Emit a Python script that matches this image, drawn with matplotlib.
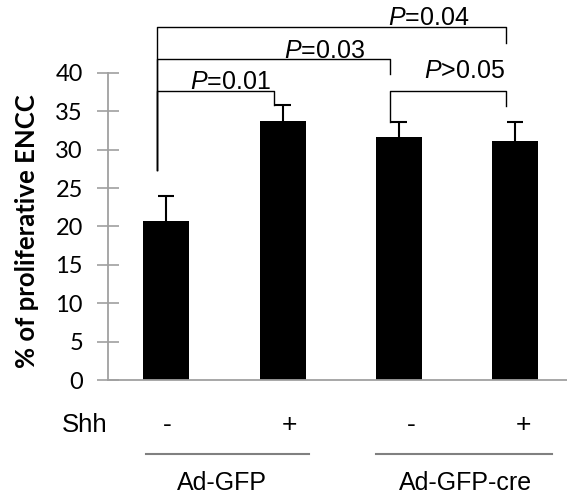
import numpy as np
import matplotlib
matplotlib.use('Agg')
import matplotlib.pyplot as plt
import matplotlib.transforms as mtransforms

plt.rcParams['mathtext.fontset'] = 'custom'
plt.rcParams['mathtext.rm'] = 'Liberation Sans'
plt.rcParams['mathtext.it'] = 'Liberation Sans:italic'

# data
shh = ['-', '+', '-', '+']
groups = ['Ad-GFP', 'Ad-GFP-cre']
values = np.array([20.75, 33.7, 31.6, 31.1])
errors = np.array([3.25, 2.1, 2.05, 2.55])

# significance brackets: (left bar, right bar, height, left leg end, right leg end, label, text x, text y)
brackets = [
    (0, 1, 37.7, 27.4, 35.8, r'$\mathit{P}$=0.01', 0.55, 37.9),
    (0, 2, 41.8, 27.4, 39.9, r'$\mathit{P}$=0.03', 1.36, 41.9),
    (0, 3, 46.0, 27.4, 43.9, r'$\mathit{P}$=0.04', 2.26, 46.2),
    (2, 3, 37.7, 33.65, 35.7, r'$\mathit{P}$>0.05', 2.565, 39.3),
]

GRAY = '#a0a0a0'
ARIAL = 'Liberation Sans'

fig = plt.figure(figsize=(5.67, 4.98), dpi=100)
ax = fig.add_axes([108 / 567, 118 / 498, 1 - 108 / 567, 1 - 118 / 498])

x = np.arange(len(values))
ax.bar(x, values, width=0.395, color='black')
# upper error bars only
ax.vlines(x, values, values + errors, color='black', lw=1.5)
ax.hlines(values + errors, x - 0.07, x + 0.07, color='black', lw=1.5)

ax.set_xlim(-0.5, 3.445)
ax.set_ylim(0, 49.5)

for s in ['top', 'right']:
    ax.spines[s].set_visible(False)
ax.spines['left'].set_bounds(0, 40)
for s in ['left', 'bottom']:
    ax.spines[s].set_color(GRAY)
    ax.spines[s].set_linewidth(1.3)

ax.set_yticks(np.arange(0, 41, 5))
ax.set_xticks([])
ax.tick_params(axis='y', direction='inout', length=16, width=1.2, color=GRAY,
               pad=10, labelsize=17)
for lab in ax.get_yticklabels():
    lab.set_fontfamily('Lato')

fig.text(27 / 567, 1 - 231.5 / 498, '% of proliferative ENCC', rotation=90,
         ha='center', va='center', fontsize=18.5, fontweight='bold',
         fontfamily='Lato')

# brackets
leg = -0.075
for i, j, h, lb, rb, lab, tx, ty in brackets:
    ax.plot([i + leg, i + leg, j + leg, j + leg], [lb, h, h, rb],
            color='black', lw=1, clip_on=False)
    ax.text(tx, ty, lab, ha='center', va='baseline', fontsize=18,
            fontfamily=ARIAL, clip_on=False)

# lower labels
trans = mtransforms.blended_transform_factory(ax.transData, fig.transFigure)
fig.text(85 / 567, 1 - 425 / 498, 'Shh', ha='center', va='center',
         fontsize=18.5, fontfamily=ARIAL)
sign_x = [0.01, 1.06, 2.11, 3.07]
for sx, s in zip(sign_x, shh):
    ax.text(sx, 1 - 425 / 498, s, transform=trans, ha='center', va='center',
            fontsize=19, fontfamily=ARIAL)

line_spans = [(-0.17, 1.23), (1.80, 3.32)]
group_x = [0.48, 2.57]
for (a, b), gx, g in zip(line_spans, group_x, groups):
    ax.plot([a, b], [1 - 454 / 498] * 2, transform=trans, color='#808080',
            lw=1.5, clip_on=False)
    ax.text(gx, 1 - 483 / 498, g, transform=trans, ha='center', va='center',
            fontsize=18, fontfamily=ARIAL)

fig.savefig('out.png', dpi=100)
